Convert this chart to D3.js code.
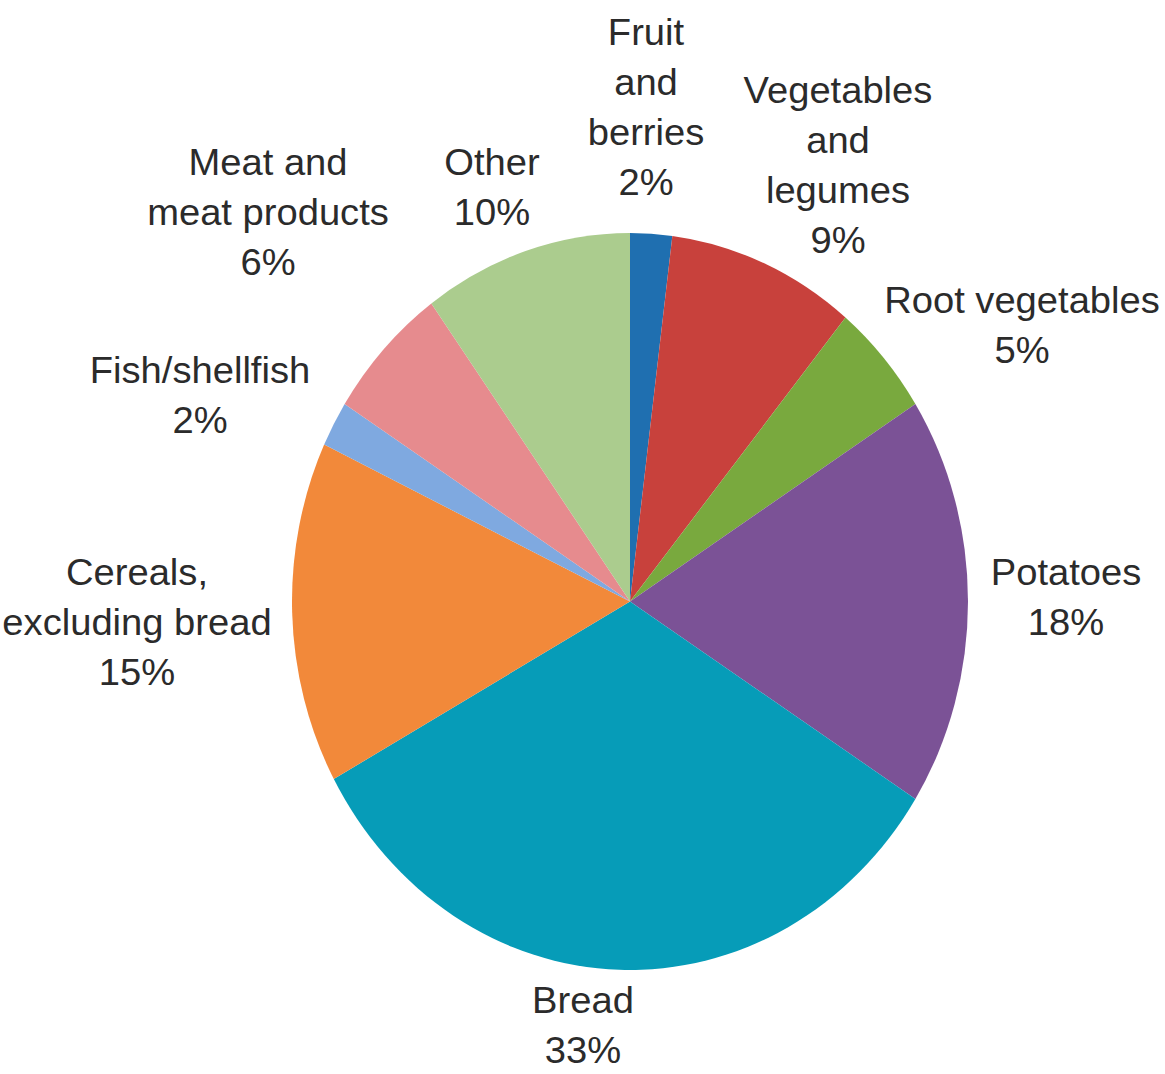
<!DOCTYPE html>
<html>
<head>
<meta charset="utf-8">
<script src="https://cdn.jsdelivr.net/npm/d3@7"></script>
<style>
  html, body { margin: 0; padding: 0; background: #fff; }
  text { font-family: "Liberation Sans", Arial, sans-serif; fill: #2b2b2b; }
</style>
</head>
<body>
<div id="chart"></div>
<script>
// categories, clockwise from 12 o'clock
let categories = [
  ["Fruit", "and", "berries"],
  ["Vegetables", "and", "legumes"],
  ["Root vegetables"],
  ["Potatoes"],
  ["Bread"],
  ["Cereals,", "excluding bread"],
  ["Fish/shellfish"],
  ["Meat and", "meat products"],
  ["Other"]
];
let shares = [2, 9, 5, 18, 33, 15, 2, 6, 10];
let colors = ["#1f6fb0", "#c8413c", "#79a93e", "#7b5296", "#069cb8",
              "#f2893a", "#7fa9e0", "#e68b8e", "#abcc8e"];

// label anchor points (centre x, centre of first line y)
let labelPos = [[646, 32], [838, 90], [1022, 300], [1066, 572], [583, 1000],
                [137, 572], [200, 370], [268, 162], [492, 162]];

let width = 1165, height = 1074;
let cx = 630, cy = 601.5, rx = 338, ry = 368.5;
let lineH = 50, fontSize = 36, textStretch = 1.06;

let svg = d3.select("#chart").append("svg")
    .attr("width", width)
    .attr("height", height);

let pie = d3.pie().sort(null).value(d => d);
let arc = d3.arc().innerRadius(0).outerRadius(ry);

// the source picture is stretched vertically, so squash x
let g = svg.append("g")
    .attr("transform", "translate(" + cx + "," + cy + ") scale(" + (rx / ry) + ",1)");

g.selectAll("path")
    .data(pie(shares))
  .enter().append("path")
    .attr("d", arc)
    .style("fill", (d, i) => colors[i]);

// labels: name lines then percentage
let labels = svg.selectAll(".label")
    .data(categories)
  .enter().append("g")
    .attr("class", "label")
    .attr("transform", (d, i) =>
      "translate(" + labelPos[i][0] + "," + labelPos[i][1] + ") scale(" + textStretch + ",1)")
  .append("text")
    .attr("text-anchor", "middle")
    .style("font-size", fontSize + "px");

labels.each(function(lines, i) {
  let t = d3.select(this);
  let all = lines.concat([shares[i] + "%"]);
  all.forEach((s, k) => {
    t.append("tspan")
      .attr("x", 0)
      .attr("y", k * lineH)
      .attr("dy", "0.36em")
      .text(s);
  });
});
</script>
</body>
</html>
